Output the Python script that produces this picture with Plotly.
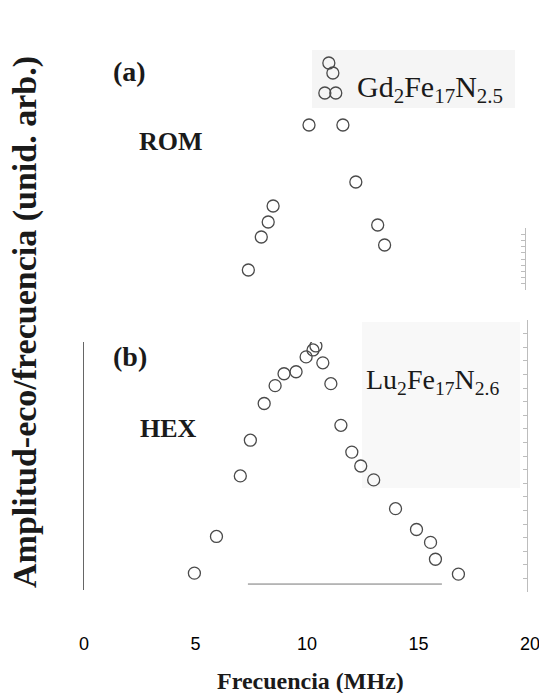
import plotly.graph_objects as go

# Frequency (MHz) and normalised echo amplitude / frequency (arb. units)
rom_freq = [10.98, 11.16, 10.80, 11.29, 10.09, 11.61, 12.19, 8.48, 8.26, 7.95, 13.17, 13.48, 7.37]
rom_amp = [0.908, 0.868, 0.788, 0.788, 0.660, 0.660, 0.432, 0.336, 0.272, 0.212, 0.260, 0.180, 0.080]

hex_freq = [4.95, 5.94, 7.01, 7.46, 8.08, 8.57, 8.97, 9.51, 9.96, 10.27, 10.40, 10.71,
            11.07, 11.52, 12.01, 12.41, 12.99, 13.97, 14.91, 15.54, 15.76, 16.79]
hex_amp = [0.068, 0.216, 0.460, 0.604, 0.752, 0.824, 0.872, 0.880, 0.940, 0.968, 0.984, 0.916,
           0.832, 0.664, 0.556, 0.500, 0.444, 0.328, 0.244, 0.192, 0.124, 0.064]

x_ticks = [0, 5, 10, 15, 20]

W, H = 539, 693
SERIF = "Liberation Serif"
SANS = "Liberation Sans"
MARK = "#4a4a4a"


def py(p):
    """Convert a pixel row (from the top) to paper coordinates."""
    return 1 - p / H


def px(p):
    return p / W


marker = dict(symbol="circle-open", size=12, color=MARK, line=dict(width=1.3, color=MARK))

fig = go.Figure()
fig.add_trace(go.Scatter(x=rom_freq, y=rom_amp, mode="markers", marker=marker,
                         xaxis="x", yaxis="y", showlegend=False))
fig.add_trace(go.Scatter(x=hex_freq, y=hex_amp, mode="markers", marker=marker,
                         xaxis="x", yaxis="y2", showlegend=False))
# placeholders so the faint right-hand scales get drawn
fig.add_trace(go.Scatter(x=[None], y=[None], xaxis="x", yaxis="y3", showlegend=False, hoverinfo="skip"))
fig.add_trace(go.Scatter(x=[None], y=[None], xaxis="x", yaxis="y4", showlegend=False, hoverinfo="skip"))

right_scale = dict(anchor="free", side="right", showline=True, linecolor="#bdbdbd", linewidth=1,
                   ticks="inside", ticklen=4, tickcolor="#bdbdbd", showticklabels=False,
                   showgrid=False, zeroline=False, range=[0, 1], fixedrange=True, automargin=False)

fig.update_layout(
    template="none",
    width=W, height=H,
    margin=dict(l=0, r=0, t=0, b=0),
    paper_bgcolor="white", plot_bgcolor="rgba(0,0,0,0)",
    xaxis=dict(domain=[px(84), px(530)], range=[0, 20], tickvals=x_ticks,
               ticktext=[str(t) for t in x_ticks], anchor="free", position=py(631),
               showline=False, showgrid=False, zeroline=False, ticks="",
               automargin=False, ticklabeloverflow="allow", fixedrange=True,
               tickfont=dict(family=SANS, size=18, color="#000")),
    yaxis=dict(domain=[py(290), py(40)], range=[0, 1], visible=False, fixedrange=True,
               automargin=False),
    yaxis2=dict(domain=[py(590), py(342)], range=[0, 1], showline=True, linecolor="#666",
                linewidth=1, ticks="", showticklabels=False, showgrid=False, zeroline=False,
                fixedrange=True, automargin=False),
    yaxis3=dict(domain=[py(592), py(320)], position=px(527), dtick=0.05, **right_scale),
    yaxis4=dict(domain=[py(290), py(228)], position=px(525), dtick=0.1, **right_scale),
)

# partial baseline under the HEX spectrum
fig.add_shape(type="line", xref="x", yref="y2", x0=7.35, x1=16.05, y0=0.024, y1=0.024,
              line=dict(color="#777", width=1))

# faint shaded patches behind the compound labels
fig.add_shape(type="rect", xref="paper", yref="paper", x0=px(312), x1=px(515), y0=py(108), y1=py(50),
              fillcolor="#f5f5f5", line_width=0, layer="below")
fig.add_shape(type="rect", xref="paper", yref="paper", x0=px(362), x1=px(520), y0=py(488), y1=py(322),
              fillcolor="#f8f8f8", line_width=0, layer="below")


def label(text, x, y, size, bold=True, xanchor="center", font=SERIF, angle=0):
    fig.add_annotation(text=text, x=x, y=y, xref="paper", yref="paper", showarrow=False,
                       xanchor=xanchor, yanchor="middle", textangle=angle,
                       font=dict(family=font, size=size, color="#1a1a1a",
                                 weight="bold" if bold else "normal"))


label("(a)", px(129), py(71), 28)
label("ROM", px(171), py(141), 26)
label("Gd<sub>2</sub>Fe<sub>17</sub>N<sub>2.5</sub>", px(355), py(89), 30, bold=False, xanchor="left")
label("(b)", px(130), py(356), 28)
label("HEX", px(168), py(428), 26)
label("Lu<sub>2</sub>Fe<sub>17</sub>N<sub>2.6</sub>", px(364), py(381), 28, bold=False, xanchor="left")
label("Amplitud-eco/frecuencia (unid. arb.)", px(25), py(322), 34, angle=-90)
label("Frecuencia (MHz)", px(310), py(681), 24)

fig.write_html("out.html")
